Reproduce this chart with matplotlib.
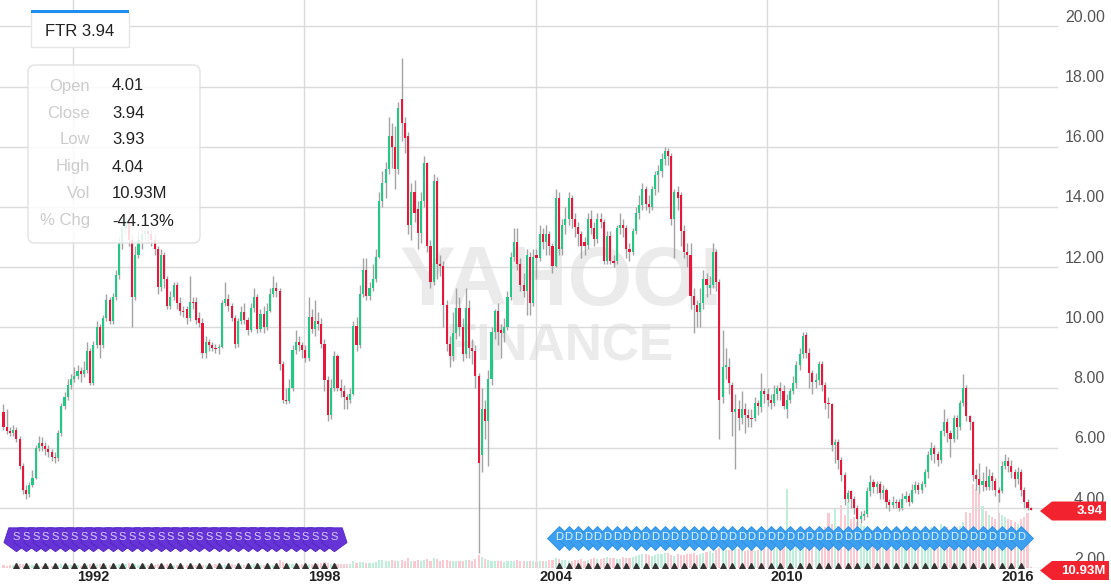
import matplotlib
matplotlib.use("Agg")
import matplotlib.pyplot as plt
import matplotlib.dates as mdates
from matplotlib.patches import Polygon, FancyBboxPatch, Rectangle
from matplotlib.transforms import Affine2D, blended_transform_factory
import pandas as pd

# ---------------------------------------------------------------- data
FIRST_MONTH = "1990-03-01"   # monthly candles, Mar 1990 .. Nov 2016

opens = [
    7.2, 6.7, 6.55, 6.5, 6.6, 6.3, 5.4, 4.6, 4.45, 4.75,
    5.0, 6.0, 6.15, 6.05, 5.95, 5.85, 5.7, 5.65, 6.5, 7.4, 7.7, 8.1,
    8.3, 8.4, 8.55, 8.45, 8.6, 9.2, 8.15, 9.4, 10.0, 9.4, 10.3, 10.9,
    10.2, 11.0, 11.75, 12.8, 13.3, 13.6, 12.9, 11.0, 12.4, 12.9, 13.1, 13.2,
    13.1, 12.9, 12.6, 11.35, 12.4, 11.6, 10.7, 11.0, 11.4, 10.8, 10.55, 10.6,
    10.3, 10.85, 10.85, 10.3, 10.15, 9.15, 9.5, 9.4, 9.32, 9.3, 9.35, 10.8,
    10.95, 10.7, 10.3, 9.45, 10.2, 10.5, 10.25, 9.9, 10.65, 11.0, 9.95, 10.45,
    10.0, 10.55, 11.1, 11.3, 11.2, 8.8, 7.6, 7.55, 8.0, 9.25, 9.5, 9.4,
    9.25, 9.0, 10.35, 9.95, 10.2, 10.1, 9.45, 8.25, 7.1, 8.0, 9.05, 8.0,
    7.9, 7.7, 7.6, 7.8, 10.05, 9.4, 11.1, 11.9, 11.05, 11.3, 11.6, 12.35,
    14.2, 14.8, 15.25, 16.35, 16.0, 15.25, 17.6, 16.8, 16.35, 13.4, 14.5, 13.95,
    13.15, 14.2, 15.45, 12.7, 11.5, 14.85, 12.1, 12.05, 10.75, 9.45, 9.05, 9.8,
    10.65, 10.0, 9.1, 10.65, 9.3, 9.2, 8.4, 5.75, 7.3, 6.9, 8.3, 9.85,
    10.55, 9.9, 9.8, 10.0, 11.0, 12.35, 12.85, 12.1, 11.4, 11.2, 12.35, 10.8,
    12.4, 12.3, 13.1, 12.85, 13.1, 12.7, 12.05, 14.3, 12.6, 13.4, 13.6, 14.3,
    13.6, 13.35, 13.1, 12.85, 12.75, 13.6, 13.3, 12.95, 13.6, 13.5, 12.2, 13.05,
    12.2, 12.2, 13.3, 13.4, 13.3, 12.6, 12.5, 13.2, 13.8, 14.05, 14.6, 14.1,
    14.0, 14.6, 15.05, 15.2, 15.6, 15.85, 15.7, 13.6, 14.5, 14.4, 13.2, 12.5,
    12.4, 11.05, 10.75, 10.5, 10.8, 11.6, 11.3, 11.4, 12.5, 11.5, 7.7, 8.7,
    8.7, 8.1, 7.2, 7.3, 7.0, 7.3, 7.1, 7.0, 7.0, 7.5, 7.35, 7.9,
    7.8, 7.6, 7.5, 7.8, 8.0, 7.9, 7.3, 7.6, 7.9, 8.15, 8.75, 9.1,
    9.75, 9.15, 8.5, 8.2, 8.25, 8.8, 8.1, 7.5, 7.45, 6.1, 6.2, 5.6,
    5.1, 4.3, 4.55, 4.3, 4.0, 3.65, 3.75, 3.8, 4.55, 4.85, 4.7, 4.8,
    4.5, 4.6, 4.2, 4.1, 4.2, 4.2, 4.0, 4.3, 4.4, 4.2, 4.6, 4.75,
    4.6, 4.8, 5.2, 5.75, 6.0, 5.8, 5.6, 6.55, 6.85, 6.5, 6.3, 7.0,
    6.7, 7.5, 8.0, 7.05, 6.85, 5.1, 4.95, 4.75, 4.9, 4.7, 5.05, 4.9,
    4.6, 4.55, 5.4, 5.55, 5.4, 5.2, 4.95, 5.2, 4.6, 4.2, 4.01,
]

closes = [
    6.7, 6.55, 6.5, 6.6, 6.3, 5.4, 4.6, 4.45, 4.75, 5.0,
    6.0, 6.15, 6.05, 5.95, 5.85, 5.7, 5.65, 6.5, 7.4, 7.7, 8.1, 8.3,
    8.4, 8.55, 8.45, 8.6, 9.2, 8.15, 9.4, 10.0, 9.4, 10.3, 10.9, 10.2,
    11.0, 11.75, 12.8, 13.3, 13.6, 12.9, 11.0, 12.4, 12.9, 13.1, 13.2, 13.1,
    12.9, 12.6, 11.35, 12.4, 11.6, 10.7, 11.0, 11.4, 10.8, 10.55, 10.5, 10.3,
    10.85, 10.8, 10.25, 10.15, 9.15, 9.5, 9.4, 9.3, 9.28, 9.35, 10.8, 10.95,
    10.7, 10.3, 9.45, 10.2, 10.5, 10.25, 9.9, 10.65, 11.0, 9.95, 10.45, 10.0,
    10.55, 11.1, 11.3, 11.2, 8.8, 7.6, 7.55, 8.0, 9.25, 9.5, 9.4, 9.25,
    9.0, 10.35, 9.95, 10.2, 10.1, 9.45, 8.25, 7.1, 8.0, 9.05, 8.0, 7.9,
    7.7, 7.6, 7.8, 10.05, 9.4, 11.1, 11.9, 11.05, 11.3, 11.6, 12.35, 14.2,
    14.8, 15.25, 16.35, 16.0, 15.25, 17.3, 16.8, 16.3, 13.4, 14.5, 13.8, 13.15,
    14.2, 15.45, 12.7, 11.5, 14.85, 12.1, 12.05, 10.75, 9.45, 9.05, 9.8, 10.65,
    10.0, 9.1, 10.65, 9.3, 9.2, 8.4, 5.5, 7.3, 6.9, 8.3, 9.85, 10.55,
    9.85, 9.8, 10.0, 11.0, 12.35, 12.85, 12.1, 11.4, 11.2, 12.4, 10.8, 12.35,
    12.3, 13.1, 12.85, 13.1, 12.7, 12.05, 14.3, 12.6, 13.4, 13.6, 14.3, 13.6,
    13.35, 13.1, 12.7, 12.7, 13.6, 13.3, 12.95, 13.6, 13.5, 12.2, 13.05, 12.2,
    12.15, 13.3, 13.4, 13.3, 12.6, 12.5, 13.2, 13.8, 14.05, 14.6, 14.1, 14.0,
    14.6, 15.05, 15.2, 15.6, 15.85, 15.7, 13.6, 14.5, 14.3, 13.2, 12.5, 12.4,
    11.05, 10.75, 10.5, 10.8, 11.6, 11.4, 11.4, 12.5, 11.5, 7.6, 8.7, 8.75,
    8.15, 7.2, 7.3, 7.0, 7.3, 7.1, 7.0, 6.95, 7.5, 7.4, 7.9, 7.8,
    7.6, 7.5, 7.8, 8.0, 7.9, 7.4, 7.6, 7.9, 8.15, 8.75, 9.1, 9.7,
    9.15, 8.5, 8.2, 8.25, 8.8, 8.1, 7.5, 7.45, 6.1, 6.2, 5.6, 5.1,
    4.3, 4.5, 4.3, 4.0, 3.65, 3.75, 3.8, 4.55, 4.85, 4.7, 4.8, 4.5,
    4.6, 4.2, 4.1, 4.2, 4.15, 4.0, 4.3, 4.4, 4.2, 4.6, 4.75, 4.6,
    4.8, 5.2, 5.75, 6.0, 5.8, 5.6, 6.55, 6.85, 6.5, 6.3, 7.0, 6.7,
    7.5, 8.0, 7.05, 6.85, 5.1, 4.95, 4.75, 4.9, 4.7, 5.05, 4.9, 4.6,
    4.5, 5.4, 5.55, 5.4, 5.2, 4.95, 5.2, 4.6, 4.2, 4.0, 3.94,
]

highs = [
    7.45, 7.3, 6.7, 6.75, 6.7, 6.4, 5.5, 4.75, 4.85, 5.25,
    6.1, 6.4, 6.35, 6.2, 6.1, 5.95, 5.85, 6.6, 7.5, 7.85, 8.3, 8.45,
    8.7, 8.75, 8.7, 8.9, 9.5, 9.3, 9.55, 10.2, 10.1, 10.4, 11.1, 11.0,
    11.15, 11.9, 13.0, 13.6, 13.8, 13.7, 13.1, 12.7, 13.2, 13.4, 13.5, 13.4,
    13.3, 13.1, 12.7, 12.6, 12.5, 11.7, 11.2, 11.5, 11.5, 11.0, 10.7, 10.7,
    11.7, 11.0, 11.0, 10.5, 10.3, 9.7, 9.6, 9.5, 9.45, 9.45, 10.9, 11.5,
    11.1, 10.8, 10.4, 10.3, 10.7, 10.8, 10.35, 10.8, 11.3, 11.1, 10.6, 10.7,
    10.8, 11.3, 11.7, 11.5, 11.3, 8.9, 8.0, 8.3, 9.4, 9.9, 9.7, 9.5,
    9.4, 11.0, 10.6, 10.9, 10.5, 10.3, 9.6, 8.4, 8.3, 9.2, 9.1, 8.3,
    8.1, 7.8, 8.0, 10.2, 10.35, 11.4, 12.3, 12.3, 11.5, 12.1, 12.6, 14.5,
    15.2, 15.5, 17.0, 16.8, 16.7, 17.5, 18.95, 17.0, 16.5, 14.8, 14.9, 14.2,
    14.5, 15.7, 15.5, 12.9, 15.1, 15.0, 12.4, 12.2, 10.9, 9.7, 10.5, 11.3,
    11.0, 10.3, 11.3, 10.9, 9.6, 9.4, 8.5, 8.0, 7.6, 8.6, 10.0, 10.6,
    10.8, 10.1, 10.3, 11.2, 12.5, 13.3, 13.3, 12.3, 11.8, 12.6, 12.5, 12.6,
    12.6, 13.4, 13.3, 13.4, 13.2, 12.8, 14.6, 14.5, 13.6, 14.0, 14.5, 14.4,
    13.8, 13.5, 13.2, 13.0, 13.8, 13.9, 13.5, 13.8, 13.8, 13.6, 13.2, 13.2,
    12.4, 13.4, 13.8, 13.6, 13.4, 12.8, 13.3, 14.0, 14.4, 14.8, 14.7, 14.4,
    14.7, 15.2, 15.4, 15.8, 16.0, 15.95, 15.8, 14.6, 14.7, 14.5, 13.4, 12.8,
    12.8, 11.3, 10.9, 11.3, 11.9, 11.8, 11.7, 12.8, 12.6, 11.6, 9.9, 9.3,
    9.0, 8.2, 7.8, 7.6, 7.9, 7.5, 7.3, 7.3, 7.7, 7.6, 8.5, 8.0,
    8.0, 7.8, 8.1, 8.1, 8.2, 8.1, 7.8, 8.0, 8.4, 8.9, 9.3, 9.85,
    9.85, 9.3, 8.6, 8.5, 8.9, 8.9, 8.2, 7.7, 7.5, 6.3, 6.3, 5.7,
    5.2, 4.6, 4.6, 4.4, 4.1, 3.9, 3.95, 4.7, 5.1, 4.95, 4.9, 4.9,
    4.75, 4.65, 4.3, 4.4, 4.3, 4.3, 4.5, 4.55, 4.5, 4.8, 4.9, 4.85,
    4.9, 5.3, 5.9, 6.2, 6.1, 5.9, 6.6, 7.3, 7.0, 6.6, 7.1, 7.1,
    7.6, 8.45, 8.1, 7.1, 6.9, 5.3, 5.5, 5.2, 5.4, 5.3, 5.2, 5.0,
    4.7, 5.55, 5.8, 5.7, 5.6, 5.3, 5.35, 5.3, 4.7, 4.3, 4.04,
]

lows = [
    6.6, 6.45, 6.4, 6.4, 6.2, 5.3, 4.45, 4.3, 4.35, 4.7,
    4.95, 5.9, 5.9, 5.75, 5.7, 5.55, 5.5, 5.55, 6.4, 7.3, 7.6, 7.95,
    8.2, 8.3, 8.2, 8.35, 8.5, 8.1, 8.1, 9.3, 9.0, 9.3, 10.2, 10.1,
    10.1, 10.9, 11.6, 12.6, 13.1, 12.7, 10.0, 10.9, 12.3, 12.6, 12.9, 12.8,
    12.7, 12.4, 11.1, 11.2, 11.3, 10.6, 10.6, 10.9, 10.6, 10.4, 10.35, 10.1,
    10.2, 10.6, 10.1, 10.0, 9.0, 9.0, 9.2, 9.2, 9.15, 9.1, 9.3, 10.7,
    10.55, 10.2, 9.3, 9.35, 10.1, 10.1, 9.75, 9.85, 10.5, 9.8, 9.85, 9.8,
    9.9, 10.5, 11.0, 11.0, 8.6, 7.5, 7.45, 7.5, 7.9, 9.1, 9.2, 9.0,
    8.85, 8.9, 9.8, 9.7, 9.9, 9.3, 7.9, 6.9, 6.95, 7.9, 7.9, 7.7,
    7.3, 7.3, 7.5, 7.75, 9.2, 9.3, 11.0, 10.9, 10.9, 11.2, 11.5, 12.3,
    14.0, 14.3, 15.1, 15.3, 14.6, 15.1, 16.2, 15.8, 13.1, 12.9, 13.5, 12.6,
    12.8, 14.0, 12.5, 11.3, 11.4, 11.6, 11.7, 10.0, 9.2, 8.7, 8.9, 9.6,
    9.7, 8.9, 9.0, 9.0, 8.8, 8.0, 2.5, 5.2, 6.3, 5.4, 8.1, 9.6,
    9.4, 9.0, 9.5, 9.9, 10.9, 12.2, 11.9, 11.2, 11.0, 10.4, 10.4, 10.7,
    11.6, 12.2, 12.6, 12.4, 12.4, 11.8, 12.0, 12.4, 12.4, 13.1, 13.4, 13.3,
    13.0, 12.7, 12.3, 12.4, 12.6, 13.1, 12.7, 12.8, 13.3, 12.1, 12.1, 12.1,
    12.0, 12.1, 13.1, 13.0, 12.3, 12.2, 12.4, 13.1, 13.6, 13.9, 13.9, 13.8,
    13.9, 14.4, 14.5, 15.0, 15.4, 15.4, 13.4, 12.3, 13.9, 12.7, 12.3, 12.0,
    10.6, 9.8, 10.0, 10.0, 10.6, 11.0, 11.1, 11.3, 11.2, 6.3, 7.5, 8.3,
    7.8, 6.4, 5.3, 6.6, 6.8, 6.5, 6.7, 6.7, 6.9, 7.1, 7.2, 7.5,
    7.4, 7.3, 7.4, 7.6, 7.6, 7.3, 7.0, 7.5, 7.8, 8.0, 8.6, 9.0,
    9.0, 8.0, 7.8, 8.0, 8.1, 7.9, 7.3, 7.0, 5.9, 5.5, 5.3, 4.9,
    4.1, 4.2, 4.0, 3.8, 3.35, 3.5, 3.6, 3.7, 4.4, 4.5, 4.5, 4.3,
    4.3, 4.0, 3.9, 4.0, 4.0, 3.9, 3.95, 4.2, 4.05, 4.15, 4.5, 4.45,
    4.5, 4.7, 5.0, 5.6, 5.5, 5.4, 5.5, 6.4, 6.2, 5.7, 6.2, 6.3,
    6.6, 7.4, 6.9, 6.6, 4.9, 4.6, 4.5, 4.55, 4.6, 4.6, 4.6, 4.4,
    4.2, 4.5, 5.3, 5.2, 5.0, 4.7, 4.8, 4.4, 4.0, 3.95, 3.93,
]

volumes_m = [   # monthly volume, millions of shares
    30, 28, 35, 30, 40, 45, 50, 38, 35, 30,
    30, 28, 25, 30, 28, 25, 30, 35, 40, 35, 32, 30,
    30, 35, 28, 30, 35, 40, 35, 38, 40, 35, 30, 35,
    40, 38, 45, 50, 40, 55, 45, 40, 35, 38, 40, 35,
    40, 38, 45, 40, 38, 42, 35, 30, 35, 32, 30, 35,
    35, 30, 32, 40, 35, 30, 28, 30, 40, 35, 30, 32,
    35, 40, 38, 42, 35, 30, 40, 38, 45, 40, 35, 38,
    40, 35, 38, 42, 90, 70, 50, 45, 40, 38, 35, 40,
    40, 45, 42, 40, 45, 60, 70, 55, 45, 40, 42, 45,
    50, 45, 48, 80, 60, 70, 65, 60, 55, 60, 70, 90,
    90, 80, 85, 95, 80, 75, 90, 85, 110, 80, 85, 90,
    80, 90, 100, 85, 110, 100, 80, 90, 95, 85, 80, 75,
    80, 85, 90, 95, 85, 100, 150, 130, 100, 90, 85, 80,
    80, 75, 70, 75, 80, 85, 90, 80, 75, 80, 85, 80,
    70, 75, 80, 85, 90, 95, 110, 100, 95, 90, 85, 80,
    90, 95, 100, 85, 95, 100, 110, 105, 100, 110, 120, 115,
    110, 105, 100, 120, 115, 110, 130, 140, 150, 160, 155, 145,
    140, 150, 160, 155, 170, 165, 150, 140, 160, 150, 145, 155,
    160, 170, 150, 160, 165, 180, 190, 170, 200, 230, 220, 210,
    200, 210, 230, 220, 200, 190, 210, 200, 190, 200, 230, 250,
    240, 260, 250, 230, 250, 240, 900, 420, 380, 400, 420, 440,
    450, 430, 420, 400, 380, 420, 460, 620, 500, 680, 480, 720,
    600, 750, 560, 580, 520, 500, 480, 460, 420, 400, 380, 420,
    400, 380, 360, 420, 380, 350, 360, 340, 380, 400, 420, 380,
    400, 420, 440, 460, 480, 420, 500, 480, 460, 440, 420, 460,
    480, 520, 640, 620, 950, 900, 850, 700, 650, 600, 580, 560,
    620, 600, 580, 560, 540, 520, 500, 560, 580, 620, 11,
]

split_dates = pd.date_range("1990-07-01", "1998-10-01", freq="3MS")
dividend_dates = pd.date_range("2004-08-01", "2016-08-01", freq="3MS")

price_ticks = [2, 4, 6, 8, 10, 12, 14, 16, 18, 20]
year_ticks = [1992, 1998, 2004, 2010, 2016]

ticker = "FTR"
last_price = "3.94"
last_volume = "10.93M"
tooltip_labels = ["Open", "Close", "Low", "High", "Vol", "% Chg"]
tooltip_values = ["4.01", "3.94", "3.93", "4.04", "10.93M", "-44.13%"]

# ---------------------------------------------------------------- style
UP = "#21c985"
DOWN = "#e8163a"
WICK = "#a3a3a3"
GRID = "#dadada"
TAG = "#f2232f"

W, H = 1111, 586
PIX = Affine2D().scale(1, -1).translate(0, H)   # top-left pixel coordinates

plt.rcParams["font.family"] = ["Liberation Sans", "DejaVu Sans"]

fig = plt.figure(figsize=(W / 100, H / 100), dpi=100)
fig.patch.set_facecolor("white")

PLOT_BOTTOM = 568
ax = fig.add_axes([0, 1 - PLOT_BOTTOM / H, 1, PLOT_BOTTOM / H])
vax = ax.twinx()
ax.set_zorder(vax.get_zorder() + 1)
ax.patch.set_visible(False)

# axis scales (price grid: 30.1 px per dollar, $4 at y=508 px)
px_per_year = (997.7 - 73.3) / 24
x_left = mdates.date2num(pd.Timestamp("1992-01-01")) - 73.3 / px_per_year * 365.25
x_right = x_left + W / px_per_year * 365.25
ax.set_xlim(x_left, x_right)
ax.set_ylim(4 - 60 / 30.1, 4 + 508 / 30.1)
vax.set_ylim(0, 6450)

for a in (ax, vax):
    a.set_xticks([])
    a.set_yticks([])
    for s in a.spines.values():
        s.set_visible(False)

xs = mdates.date2num(pd.date_range(FIRST_MONTH, periods=len(closes), freq="MS")) + 9
up = [c >= o for o, c in zip(opens, closes)]

# grid
for p in price_ticks[1:]:
    ax.axhline(p, xmin=0, xmax=1057 / W, color=GRID, lw=1, zorder=0)
ax.axhline(ax.get_ylim()[0] + 0.01, color="#cfcfcf", lw=1, zorder=0)
for yr in year_ticks:
    ax.axvline(mdates.date2num(pd.Timestamp(f"{yr}-01-01")), color=GRID, lw=1, zorder=0)

# watermark
fig.text(562, 283, "YAHOO!", transform=PIX, fontsize=60, fontweight="bold",
         color="#ebebeb", ha="center", va="center", zorder=0)
fig.text(560, 347, "FINANCE", transform=PIX, fontsize=37, fontweight="bold",
         color="#ebebeb", ha="center", va="center", zorder=0)

# volume
vcolors = ["#a9ead0" if u else "#f9b8c2" for u in up]
vax.bar(xs, volumes_m, width=20, color=vcolors, alpha=0.75, linewidth=0, zorder=1)

# candles
ax.vlines(xs, lows, highs, color=WICK, lw=1, zorder=2)
bottoms = [min(o, c) for o, c in zip(opens, closes)]
heights = [max(abs(c - o), 0.04) for o, c in zip(opens, closes)]
ax.bar(xs, heights, bottom=bottoms, width=20, color=[UP if u else DOWN for u in up],
       linewidth=0, zorder=3)

# event markers
ev = blended_transform_factory(ax.transData, ax.transAxes)
band_y = (PLOT_BOTTOM - 537.5) / PLOT_BOTTOM
sx = mdates.date2num(split_dates) + 9
dx = mdates.date2num(dividend_dates) + 9
ax.plot(sx, [band_y] * len(sx), ls="none", marker=(5, 0, 180), ms=19,
        color="#6633d6", mec="#5424c4", mew=0.6, transform=ev, zorder=5)
ax.plot(dx, [band_y] * len(dx), ls="none", marker="D", ms=12.5,
        color="#3c9ff0", mec="#2f8fe4", mew=0.6, transform=ev, zorder=5)
for x in sx:
    ax.text(x, band_y, "S", color="#d9ccff", fontsize=8, ha="center", va="center",
            transform=ev, zorder=6)
for x in dx:
    ax.text(x, band_y, "D", color="#e3f1ff", fontsize=8, ha="center", va="center",
            transform=ev, zorder=6)
tri_y = (PLOT_BOTTOM - 565.5) / PLOT_BOTTOM
ax.plot(list(sx) + list(dx), [tri_y] * (len(sx) + len(dx)), ls="none", marker="^",
        ms=4, color="#333333", transform=ev, zorder=5)

# right price labels
lab = blended_transform_factory(ax.transAxes, ax.transData)
for p in price_ticks:
    ax.text(1105 / W, p + 9 / 30.1, f"{p:.2f}", transform=lab, ha="right", va="center",
            fontsize=11.5, color="#555555", zorder=4)

# year labels
for yr in year_ticks:
    gx = 73.3 + (yr - 1992) * px_per_year
    fig.text(gx + 4, 577, str(yr), transform=PIX, ha="left", va="center",
             fontsize=10.5, fontweight="bold", color="#222222")

# price / volume tags
def tag(y, x_end, text):
    pts = [(1040, y), (1052, y - 9.5), (x_end, y - 9.5), (x_end, y + 9.5), (1052, y + 9.5)]
    fig.add_artist(Polygon(pts, closed=True, transform=PIX, facecolor=TAG,
                           edgecolor="none", zorder=20))
    fig.text(x_end - 3, y + 0.5, text, transform=PIX, ha="right", va="center",
             fontsize=9.5, fontweight="bold", color="white", zorder=21)

tag(511, 1106, last_price)
tag(570.5, 1109, last_volume)

# ticker box
fig.add_artist(Rectangle((31, 12), 98, 35, transform=PIX, facecolor="white",
                         edgecolor="#e6e6e6", lw=1, zorder=20))
fig.add_artist(Rectangle((31, 9.5), 98, 3.5, transform=PIX, facecolor="#1e8ff0",
                         edgecolor="none", zorder=21))
fig.text(45, 31, f"{ticker} {last_price}", transform=PIX, ha="left", va="center",
         fontsize=12, color="#222222", zorder=22)

# OHLC tooltip
fig.add_artist(FancyBboxPatch((28, 65), 172, 178, boxstyle="round,pad=0,rounding_size=7",
                              transform=PIX, facecolor=(1, 1, 1, 0.85),
                              edgecolor="#e2e2e2", lw=1, zorder=20))
for i, (lbl, val) in enumerate(zip(tooltip_labels, tooltip_values)):
    yy = 86 + i * 27
    fig.text(90, yy, lbl, transform=PIX, ha="right", va="center", fontsize=12,
             color="#cccccc", zorder=21)
    fig.text(112, yy, val, transform=PIX, ha="left", va="center", fontsize=12,
             color="#222222", zorder=21)

fig.savefig("out.png", dpi=100, facecolor="white")
